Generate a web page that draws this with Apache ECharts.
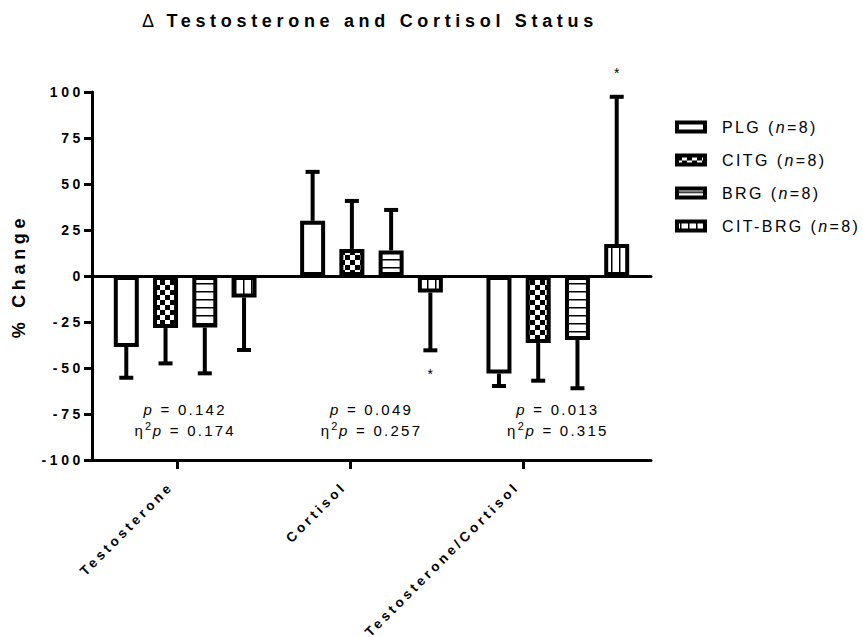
<!DOCTYPE html>
<html>
<head>
<meta charset="utf-8">
<script src="https://cdn.jsdelivr.net/npm/echarts@6/dist/echarts.min.js"></script>
<style>
  html, body { margin: 0; padding: 0; background: #fff; }
  #chart { width: 863px; height: 637px; }
  /* GraphPad-style spaced lettering */
  #chart text { letter-spacing: 0.15em; }
  #chart text[style*="bold"] { letter-spacing: 0.26em; }
</style>
</head>
<body>
<div id="chart"></div>
<script>
// ---- data ----
const categories = ['Testosterone', 'Cortisol', 'Testosterone/Cortisol'];
const groups = ['PLG', 'CITG', 'BRG', 'CIT-BRG'];
const groupN = [8, 8, 8, 8];

// mean % change, one list per group (order = categories)
const plgMean = [-38.6, 30.0, -53.0];
const citgMean = [-28.3, 14.7, -36.4];
const brgMean = [-28.0, 13.9, -34.8];
const citBrgMean = [-11.7, -9.0, 17.4];

// one-sided error bars (SD)
const plgSd = [16.7, 26.6, 6.8];
const citgSd = [19.2, 26.1, 20.5];
const brgSd = [24.9, 22.0, 26.2];
const citBrgSd = [28.5, 31.4, 80.0];

// '*' marks: [category index, group index]
const starred = [[1, 3], [2, 3]];

const pValues = ['0.142', '0.049', '0.013'];
const etaSq = ['0.174', '0.257', '0.315'];

const yTicks = [-100, -75, -50, -25, 0, 25, 50, 75, 100];

// ---- styles ----
const FONT = 'Liberation Sans';
const BAR_W = 25;
const BAR_GAP = 0.57;
const NOTE_Y = -78.5;

// text widths include the letter spacing set in the css above
const measureCtx = document.createElement('canvas').getContext('2d');
if (echarts.setPlatformAPI) {
  echarts.setPlatformAPI({
    measureText(text, font) {
      font = font || '12px sans-serif';
      measureCtx.font = font;
      const w = measureCtx.measureText(text).width;
      if (text === '国') return { width: w }; // line height probe
      const m = /(\d+(\.\d+)?)px/.exec(font);
      const size = m ? parseFloat(m[1]) : 12;
      const em = /bold/.test(font) ? 0.26 : 0.15;
      return { width: w + text.length * em * size };
    }
  });
}

function pattern(w, h, draw) {
  const c = document.createElement('canvas');
  c.width = w; c.height = h;
  const ctx = c.getContext('2d');
  ctx.fillStyle = '#fff';
  ctx.fillRect(0, 0, w, h);
  ctx.fillStyle = '#000';
  draw(ctx);
  return { image: c, repeat: 'repeat', imageWidth: w, imageHeight: h };
}

const fills = [
  '#fff',
  pattern(10, 10, ctx => { ctx.fillRect(0, 0, 5, 5); ctx.fillRect(5, 5, 5, 5); }),
  pattern(4, 8, ctx => { ctx.fillRect(0, 3, 4, 1.5); }),
  pattern(8, 4, ctx => { ctx.fillRect(3, 0, 1.5, 4); })
];

const means = [plgMean, citgMean, brgMean, citBrgMean];
const sds = [plgSd, citgSd, brgSd, citBrgSd];

const errData = [];
groups.forEach((g, gi) => {
  means[gi].forEach((m, ci) => {
    const star = starred.some(s => s[0] === ci && s[1] === gi) ? 1 : 0;
    errData.push([ci, m, sds[gi][ci], gi, star]);
  });
});

function barOffset(gi) {
  return (gi - (groups.length - 1) / 2) * BAR_W * (1 + BAR_GAP);
}

function renderErr(params, api) {
  const ci = api.value(0), mean = api.value(1), sd = api.value(2);
  const gi = api.value(3), star = api.value(4);
  const dir = mean < 0 ? -1 : 1;
  const base = api.coord([ci, mean]);
  const tip = api.coord([ci, mean + dir * sd]);
  const x = base[0] + barOffset(gi);
  const st = { stroke: '#000', lineWidth: 4 };
  const children = [
    { type: 'line', shape: { x1: x, y1: base[1], x2: x, y2: tip[1] }, style: st },
    { type: 'line', shape: { x1: x - 7, y1: tip[1], x2: x + 7, y2: tip[1] }, style: st }
  ];
  if (star) {
    children.push({
      type: 'text', x: x + 1, y: tip[1] - dir * 24,
      style: { text: '*', align: 'center', verticalAlign: 'middle', fontSize: 14, fontFamily: FONT, fill: '#000' }
    });
  }
  return { type: 'group', children };
}

const labelBold = { color: '#000', fontFamily: FONT, fontWeight: 'bold', fontSize: 14 };
const lineBlack = { color: '#000', width: 3 };

const chart = echarts.init(document.getElementById('chart'), null, { renderer: 'svg', width: 863, height: 637 });

chart.setOption({
  animation: false,
  backgroundColor: '#fff',
  textStyle: { fontFamily: FONT },
  title: {
    text: '{d|Δ} Testosterone and Cortisol Status',
    left: 142, top: 12, padding: 0,
    textStyle: {
      color: '#000', fontFamily: FONT, fontSize: 18, fontWeight: 'bold',
      rich: { d: { color: '#000', fontFamily: FONT, fontSize: 18, fontWeight: 'normal' } }
    }
  },
  legend: {
    data: groups,
    orient: 'vertical',
    left: 675, top: 119, padding: 0,
    itemWidth: 28, itemHeight: 9, itemGap: 17,
    icon: 'rect',
    selectedMode: false,
    itemStyle: { borderColor: '#000', borderWidth: 4 },
    formatter: name => {
      const n = groupN[groups.indexOf(name)];
      return '{t|' + name + ' (}{i|n}{t|=' + n + ')}';
    },
    textStyle: {
      color: '#000', fontFamily: FONT, fontSize: 16, padding: [0, 0, 0, 12],
      rich: {
        t: { color: '#000', fontFamily: FONT, fontSize: 16, lineHeight: 16 },
        i: { color: '#000', fontFamily: FONT, fontSize: 16, lineHeight: 16, fontStyle: 'italic' }
      }
    }
  },
  grid: [
    { left: 92, top: 92, width: 559, height: 368, outerBoundsMode: 'none' },
    { left: 91, top: 92, width: 519, height: 368, outerBoundsMode: 'none' }
  ],
  xAxis: [
    {
      gridIndex: 0, type: 'category', data: categories,
      axisLine: { onZero: true, lineStyle: lineBlack },
      axisTick: { show: false }, axisLabel: { show: false }, splitLine: { show: false }
    },
    {
      gridIndex: 0, type: 'category', data: categories, position: 'bottom',
      axisLine: { onZero: false, lineStyle: lineBlack },
      axisTick: { show: false }, axisLabel: { show: false }, splitLine: { show: false }
    },
    {
      gridIndex: 1, type: 'category', data: categories, position: 'bottom',
      axisLine: { show: false, onZero: false },
      axisTick: { show: true, alignWithLabel: true, length: 9, lineStyle: lineBlack },
      axisLabel: Object.assign({}, labelBold, {
        interval: 0, rotate: 45, margin: 18, fontSize: 13.5, padding: [0, 9, 0, 0]
      }),
      splitLine: { show: false }
    }
  ],
  yAxis: [
    {
      gridIndex: 0, type: 'value',
      min: yTicks[0], max: yTicks[yTicks.length - 1], interval: yTicks[1] - yTicks[0],
      axisLine: { show: true, onZero: false, lineStyle: lineBlack },
      axisTick: { show: true, length: 8, lineStyle: lineBlack },
      axisLabel: Object.assign({ margin: 8 }, labelBold),
      splitLine: { show: false },
      name: '% Change', nameLocation: 'middle', nameGap: 64, nameRotate: 90,
      nameMoveOverlap: false,
      nameTextStyle: { color: '#000', fontFamily: FONT, fontWeight: 'bold', fontSize: 18 }
    },
    {
      gridIndex: 1, type: 'value', show: false,
      min: yTicks[0], max: yTicks[yTicks.length - 1]
    }
  ],
  series: groups.map((g, gi) => ({
    type: 'bar', name: g, xAxisIndex: 0, yAxisIndex: 0,
    data: means[gi],
    barWidth: BAR_W, barGap: (BAR_GAP * 100) + '%',
    itemStyle: { color: fills[gi], borderColor: '#000', borderWidth: 4 },
    emphasis: { disabled: true },
    z: 2
  })).concat([{
    type: 'custom', name: 'sd', xAxisIndex: 0, yAxisIndex: 0,
    data: errData, encode: { x: 0, y: 1 },
    renderItem: renderErr, silent: true, z: 3
  }])
});

// p and partial eta squared notes under each category
const noteRich = {
  t: { fontFamily: FONT, fontSize: 15, lineHeight: 21, color: '#000' },
  i: { fontFamily: FONT, fontSize: 15, lineHeight: 21, fontStyle: 'italic', color: '#000' },
  s: { fontFamily: FONT, fontSize: 11, lineHeight: 6, verticalAlign: 'top', color: '#000' }
};
chart.setOption({
  graphic: categories.map((c, i) => {
    const pt = chart.convertToPixel({ xAxisIndex: 0, yAxisIndex: 0 }, [i, NOTE_Y]);
    return {
      type: 'text', x: pt[0], y: pt[1], silent: true,
      style: {
        text: '{i|p}{t| = ' + pValues[i] + '}\n{t|η}{s|2}{i|p}{t| = ' + etaSq[i] + '}',
        rich: noteRich, align: 'center', verticalAlign: 'middle',
        fontFamily: FONT, fontSize: 15, fill: '#000'
      }
    };
  })
});
</script>
</body>
</html>
